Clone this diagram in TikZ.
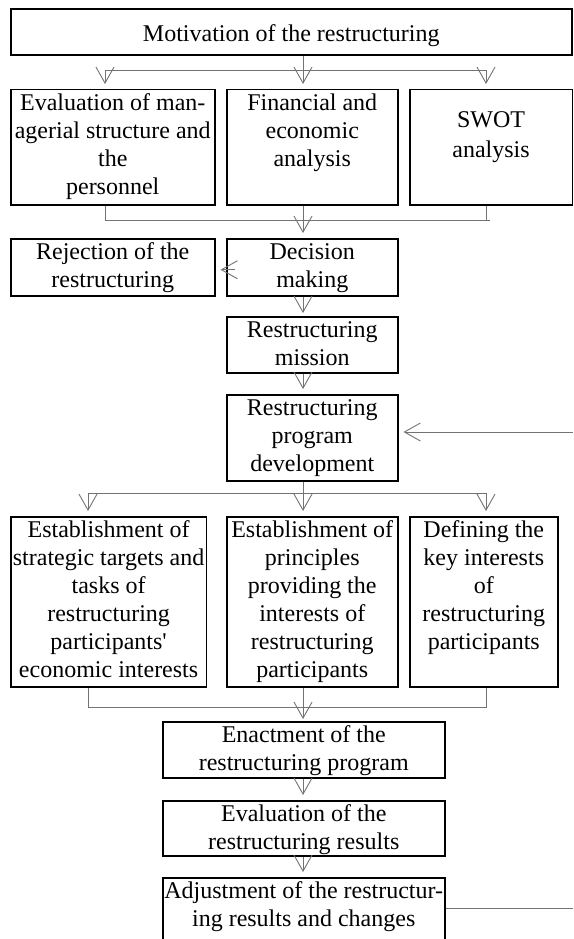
\documentclass[tikz,border=0pt]{standalone}
\usepackage{fontspec}
\setmainfont{Liberation Serif}[Ligatures=TeXOff]
\usetikzlibrary{arrows.meta}
\newcommand\tb[4]{\parbox[c][#2][t]{#1}{\fontsize{24}{28}\selectfont\vspace*{#3}\centering\strut #4\par}}
\tikzset{
  box/.style={draw=black, line width=1.5pt, inner sep=0pt, anchor=north west, fill=white},
  conn/.style={draw=black!55, line width=0.9pt},
  arr/.style={conn, -{Straight Barb[length=16pt,width=18pt]}, shorten >=5pt},
}
\begin{document}
\begin{tikzpicture}[x=1pt,y=-1pt]
\useasboundingbox (0,0) rectangle (573,939);
\clip (0,0) rectangle (573,939);
% boxes
\node[box] (mot) at (10,8.3) {\tb{561pt}{46pt}{13pt}{Motivation of the restructuring}};
\node[box] (evm) at (10,89) {\tb{204pt}{115pt}{1.5pt}{Evaluation of man-\\agerial structure and\\the\\personnel}};
\node[box] (fin) at (226,89) {\tb{171pt}{115pt}{1.5pt}{Financial and\\economic\\analysis}};
\node[box] (swot) at (409,89) {\tb{162.5pt}{115pt}{18pt}{SWOT\\[2pt]analysis}};
\node[box] (rej) at (10,238) {\tb{204pt}{57pt}{1.5pt}{Rejection of the\\restructuring}};
\node[box] (dec) at (226,238) {\tb{171pt}{57pt}{1.5pt}{Decision\\making}};
\node[box] (mis) at (226,316) {\tb{171pt}{56pt}{1.5pt}{Restructuring\\mission}};
\node[box] (prog) at (226,394) {\tb{171pt}{86pt}{1.5pt}{Restructuring\\program\\development}};
\node[box] (est1) at (10,516) {\tb{195.7pt}{170pt}{1.5pt}{Establishment of\\strategic targets and\\tasks of\\restructuring\\participants'\\economic interests}};
\node[box] (est2) at (226,516) {\tb{171pt}{170pt}{1.5pt}{Establishment of\\principles\\providing the\\interests of\\restructuring\\participants}};
\node[box] (def) at (409,516) {\tb{148pt}{170pt}{1.5pt}{Defining the\\key interests\\of\\restructuring\\participants}};
\node[box] (ena) at (162,721) {\tb{282pt}{56pt}{1.5pt}{Enactment of the\\restructuring program}};
\node[box] (evr) at (162,800) {\tb{282pt}{55pt}{1.5pt}{Evaluation of the\\restructuring results}};
\node[box] (adj) at (162,877) {\tb{282pt}{75pt}{1.5pt}{Adjustment of the restructur-\\ing results and changes}};
% helper coordinates
\coordinate (s1) at (303,70);
\coordinate (l1) at (105,70);
\coordinate (r1) at (486,70);
\coordinate (m1l) at (105,220);
\coordinate (m1r) at (486,220);
\coordinate (m1e) at (490,220);
\coordinate (s2) at (303,493);
\coordinate (l2) at (88,493);
\coordinate (r2) at (486,493);
\coordinate (m2l) at (88,707);
\coordinate (m2r) at (486,707);
\coordinate (fb) at (573,432);
\coordinate (fe) at (573,908);
% first fan-out
\draw[conn] (mot.south -| s1) -- (s1);
\draw[conn] (l1) -- (r1);
\draw[arr] (l1) -- (l1 |- evm.north);
\draw[arr] (s1) -- (s1 |- fin.north);
\draw[arr] (r1) -- (r1 |- swot.north);
% first merge
\draw[conn] (evm.south -| m1l) -- (m1l) -- (m1e);
\draw[conn] (swot.south -| m1r) -- (m1r);
\draw[arr] (fin.south -| s1) -- (dec.north -| s1);
% rejection
\draw[arr] ([xshift=9pt,yshift=-2.5pt]dec.west) -- ([yshift=-2.5pt]rej.east);
% chain
\draw[arr, shorten >=3pt] (dec.south -| s1) -- (mis.north -| s1);
\draw[arr] (mis.south -| s1) -- (prog.north -| s1);
% feedback
\draw[arr] (fb) -- (fb -| prog.east);
% second fan-out
\draw[conn] (prog.south -| s2) -- (s2);
\draw[conn] (l2) -- (r2);
\draw[arr] (l2) -- (l2 |- est1.north);
\draw[arr] (s2) -- (s2 |- est2.north);
\draw[arr] (r2) -- (r2 |- def.north);
% second merge
\draw[conn] (est1.south -| m2l) -- (m2l) -- (m2r) -- (def.south -| m2r);
\draw[arr, shorten >=2pt] (est2.south -| s2) -- (ena.north -| s2);
\draw[arr] (ena.south -| s2) -- (evr.north -| s2);
\draw[arr] (evr.south -| s2) -- (adj.north -| s2);
\draw[conn] (adj.east |- fe) -- (fe);
\end{tikzpicture}
\end{document}
